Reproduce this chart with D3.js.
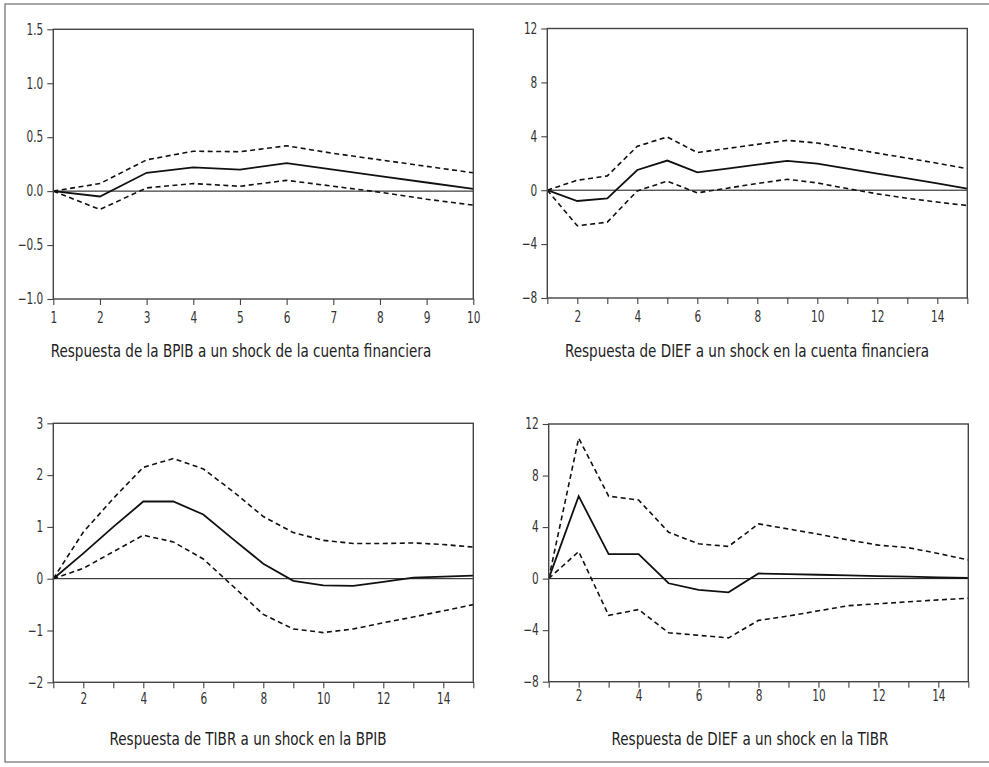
<!DOCTYPE html>
<html>
<head>
<meta charset="utf-8">
<script src="https://cdn.jsdelivr.net/npm/d3@7"></script>
<style>
  body { margin: 0; background: #fff; }
  svg { display: block; }
  .axis text { font-family: "DejaVu Sans Condensed", "DejaVu Sans", sans-serif; font-stretch: condensed; font-size: 15px; fill: #333; }
  .axis line { stroke: #444; stroke-width: 1.1; }
  .axis .domain { display: none; }
  .frame { fill: none; stroke: #444; stroke-width: 1.4; }
  .zero { stroke: #111; stroke-width: 1; }
  .resp { fill: none; stroke: #111; stroke-width: 1.8; }
  .band { fill: none; stroke: #111; stroke-width: 1.6; stroke-dasharray: 5 3.5; }
  .title { font-family: "DejaVu Sans Condensed", "DejaVu Sans", sans-serif; font-stretch: condensed; font-size: 17px; fill: #222; }
</style>
</head>
<body>
<div class="irfGraph"></div>
<script>
// periods
const periods10 = [1, 2, 3, 4, 5, 6, 7, 8, 9, 10]
const periods15 = [1, 2, 3, 4, 5, 6, 7, 8, 9, 10, 11, 12, 13, 14, 15]

// BPIB a un shock de la cuenta financiera
const bpibResp  = [0, -0.05, 0.17, 0.22, 0.20, 0.26, 0.20, 0.14, 0.08, 0.02]
const bpibUpper = [0, 0.07, 0.29, 0.37, 0.365, 0.42, 0.35, 0.29, 0.23, 0.17]
const bpibLower = [0, -0.17, 0.03, 0.07, 0.045, 0.10, 0.045, -0.01, -0.075, -0.13]

// DIEF a un shock en la cuenta financiera
const diefCfResp  = [0, -0.8, -0.6, 1.5, 2.2, 1.33, 1.6, 1.9, 2.17, 1.98, 1.6, 1.23, 0.87, 0.5, 0.12]
const diefCfUpper = [0, 0.74, 1.06, 3.26, 3.95, 2.79, 3.1, 3.4, 3.7, 3.5, 3.12, 2.75, 2.38, 2.0, 1.6]
const diefCfLower = [0, -2.64, -2.37, -0.05, 0.67, -0.2, 0.15, 0.5, 0.81, 0.54, 0.12, -0.27, -0.6, -0.88, -1.14]

// TIBR a un shock en la BPIB
const tibrResp  = [0, 0.49, 1.0, 1.49, 1.49, 1.24, 0.76, 0.29, -0.04, -0.13, -0.14, -0.06, 0.02, 0.04, 0.06]
const tibrUpper = [0, 0.9, 1.55, 2.15, 2.32, 2.12, 1.68, 1.2, 0.89, 0.74, 0.68, 0.68, 0.69, 0.66, 0.61]
const tibrLower = [0, 0.2, 0.52, 0.84, 0.71, 0.38, -0.15, -0.69, -0.97, -1.04, -0.97, -0.85, -0.74, -0.62, -0.5]

// DIEF a un shock en la TIBR
const diefTibrResp  = [0, 6.4, 1.9, 1.9, -0.36, -0.88, -1.06, 0.4, 0.35, 0.3, 0.25, 0.2, 0.15, 0.1, 0.05]
const diefTibrUpper = [0, 10.9, 6.4, 6.1, 3.6, 2.7, 2.5, 4.25, 3.85, 3.45, 3.0, 2.6, 2.4, 1.95, 1.45]
const diefTibrLower = [0, 2.1, -2.85, -2.4, -4.2, -4.4, -4.6, -3.24, -2.9, -2.5, -2.1, -1.95, -1.8, -1.65, -1.52]

const titles = [
    "Respuesta de la BPIB a un shock de la cuenta financiera",
    "Respuesta de DIEF a un shock en la cuenta financiera",
    "Respuesta de TIBR a un shock en la BPIB",
    "Respuesta de DIEF a un shock en la TIBR"
]

const panels = [
    { x: periods10, resp: bpibResp, upper: bpibUpper, lower: bpibLower,
      yDomain: [-1, 1.5], yTicks: [-1, -0.5, 0, 0.5, 1, 1.5], yFmt: d3.format(".1f"),
      labelEvery: 1, pad: 7, box: [53.3, 29.3, 473.3, 299], title: titles[0], tx: 241, ty: 357 },
    { x: periods15, resp: diefCfResp, upper: diefCfUpper, lower: diefCfLower,
      yDomain: [-8, 12], yTicks: [-8, -4, 0, 4, 8, 12], yFmt: d3.format("d"),
      labelEvery: 2, pad: 7, box: [547.3, 28.5, 967.3, 298], title: titles[1], tx: 747, ty: 357 },
    { x: periods15, resp: tibrResp, upper: tibrUpper, lower: tibrLower,
      yDomain: [-2, 3], yTicks: [-2, -1, 0, 1, 2, 3], yFmt: d3.format("d"),
      labelEvery: 2, pad: 5, box: [53.3, 423.3, 473.3, 682.3], title: titles[2], tx: 248, ty: 745 },
    { x: periods15, resp: diefTibrResp, upper: diefTibrUpper, lower: diefTibrLower,
      yDomain: [-8, 12], yTicks: [-8, -4, 0, 4, 8, 12], yFmt: d3.format("d"),
      labelEvery: 2, pad: 3, box: [548.7, 424, 968.3, 681.7], title: titles[3], tx: 750, ty: 745 }
]

const width = 989, height = 767

const svg = d3.select('.irfGraph')
    .append('svg')
    .attr('width', width)
    .attr('height', height)

// outer frame
svg.append('rect')
    .attr('x', 5).attr('y', 4)
    .attr('width', 1000).attr('height', 758)
    .attr('fill', 'none')
    .attr('stroke', '#777')
    .attr('stroke-width', 1.3)

const minus = s => s.replace('-', '\u2212')

// squeeze text so it looks like the condensed face of the original
const condense = (sel, k) => sel.each(function() {
    const w = this.getComputedTextLength()
    if (w > 0) d3.select(this).attr('textLength', w * k).attr('lengthAdjust', 'spacingAndGlyphs')
})

panels.forEach(p => {
    const [x0, y0, x1, y1] = p.box

    const xScale = d3.scaleLinear()
        .domain(d3.extent(p.x))
        .range([x0, x1])

    const yScale = d3.scaleLinear()
        .domain(p.yDomain)
        .range([y1, y0])

    const g = svg.append('g')

    g.append('g')
        .attr('class', 'axis axis__x')
        .attr('transform', `translate(0, ${y1})`)
        .call(
            d3.axisBottom(xScale)
            .tickValues(p.x)
            .tickSize(6)
            .tickPadding(p.pad)
            .tickFormat(d => (p.labelEvery === 1 || d % 2 === 0) ? d : '')
        )
        .selectAll('text').call(condense, 0.78)

    g.append('g')
        .attr('class', 'axis axis__y')
        .attr('transform', `translate(${x0}, 0)`)
        .call(
            d3.axisLeft(yScale)
            .tickValues(p.yTicks)
            .tickSize(6)
            .tickPadding(4)
            .tickFormat(d => minus(p.yFmt(d)))
        )
        .selectAll('text').call(condense, 0.78)

    // zero line
    g.append('line')
        .attr('class', 'zero')
        .attr('x1', x0).attr('x2', x1)
        .attr('y1', yScale(0)).attr('y2', yScale(0))

    const line = d3.line()
        .x((d, i) => xScale(p.x[i]))
        .y(d => yScale(d))

    g.append('path').attr('class', 'band').attr('d', line(p.upper))
    g.append('path').attr('class', 'band').attr('d', line(p.lower))
    g.append('path').attr('class', 'resp').attr('d', line(p.resp))

    g.append('rect')
        .attr('class', 'frame')
        .attr('x', x0).attr('y', y0)
        .attr('width', x1 - x0).attr('height', y1 - y0)

    g.append('text')
        .attr('class', 'title')
        .attr('x', p.tx)
        .attr('y', p.ty)
        .attr('text-anchor', 'middle')
        .text(p.title)
        .call(condense, 0.885)
})
</script>
</body>
</html>
